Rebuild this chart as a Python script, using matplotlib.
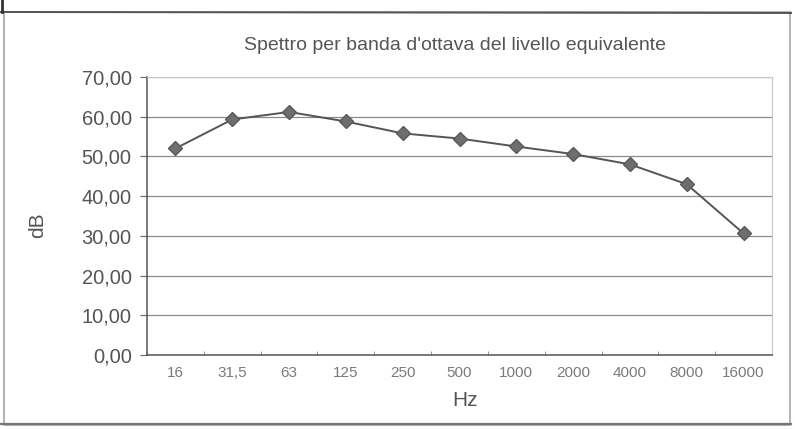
import numpy as np
import matplotlib.pyplot as plt
from matplotlib.patches import Rectangle

# octave band spectrum of the equivalent level
bands = ["16", "31,5", "63", "125", "250", "500", "1000", "2000", "4000", "8000", "16000"]
levels = [52.0, 59.3, 61.2, 58.8, 55.8, 54.5, 52.5, 50.6, 48.0, 43.0, 30.6]
yticks = [0, 10, 20, 30, 40, 50, 60, 70]

plt.rcParams['font.family'] = ['Liberation Sans', 'DejaVu Sans']

W, H = 795, 429
fig = plt.figure(figsize=(W / 100, H / 100), dpi=100)
fig.patch.set_facecolor('white')

# scanned frame around the chart
fig.add_artist(Rectangle((4 / W, 4 / H), 786 / W, (H - 16) / H, transform=fig.transFigure,
                         fill=False, edgecolor='#a5a5a5', linewidth=1.2))
fig.add_artist(plt.Line2D([0, 0.995], [1 - 12 / H, 1 - 13 / H], transform=fig.transFigure,
                          color='#555555', linewidth=1.4))
fig.add_artist(plt.Line2D([0, 0.995], [5 / H, 5 / H], transform=fig.transFigure,
                          color='#777777', linewidth=1.6))
fig.add_artist(plt.Line2D([2 / W, 2 / W], [1 - 12 / H, 1], transform=fig.transFigure,
                          color='#333333', linewidth=2))

left, right, top, bottom = 147, 772, 77, 355
ax = fig.add_axes([left / W, 1 - bottom / H, (right - left) / W, (bottom - top) / H])

x = np.arange(len(bands))
ax.plot(x, levels, color='#555555', linewidth=1.4, marker='D', markersize=7,
        markerfacecolor='#6e6e6e', markeredgecolor='#5a5a5a', zorder=3)

ax.set_xlim(-0.5, len(bands) - 0.5)
ax.set_ylim(0, 70)
ax.set_yticks(yticks)
ax.set_yticklabels([f"{v:.2f}".replace(".", ",") for v in yticks], fontsize=14.5, color='#555555')
ax.set_xticks(x)
ax.set_xticklabels(bands, fontsize=11, color='#7a7a7a')
ax.set_xticks(np.arange(-0.5, len(bands)), minor=True)
ax.tick_params(axis='x', which='major', length=0, pad=8)
ax.tick_params(axis='x', which='minor', length=3, color='#888888', direction='in')
ax.tick_params(axis='y', length=5, color='#666666', pad=6)

ax.grid(axis='y', color='#8a8a8a', linewidth=0.9)
ax.set_axisbelow(True)
ax.spines['left'].set_color('#555555')
ax.spines['bottom'].set_color('#555555')
ax.spines['top'].set_color('#c8c8c8')
ax.spines['right'].set_color('#c8c8c8')
ax.spines['left'].set_linewidth(1.1)
ax.spines['bottom'].set_linewidth(1.1)

fig.text(455 / W, 1 - 45 / H, "Spettro per banda d'ottava del livello equivalente",
         ha='center', va='center', fontsize=14, color='#555555')
fig.text(38 / W, 1 - 225 / H, "dB", ha='center', va='center', rotation=90,
         fontsize=15, color='#555555')
fig.text(465 / W, 1 - 401 / H, "Hz", ha='center', va='center', fontsize=15, color='#555555')

fig.savefig("out.png", dpi=100)
